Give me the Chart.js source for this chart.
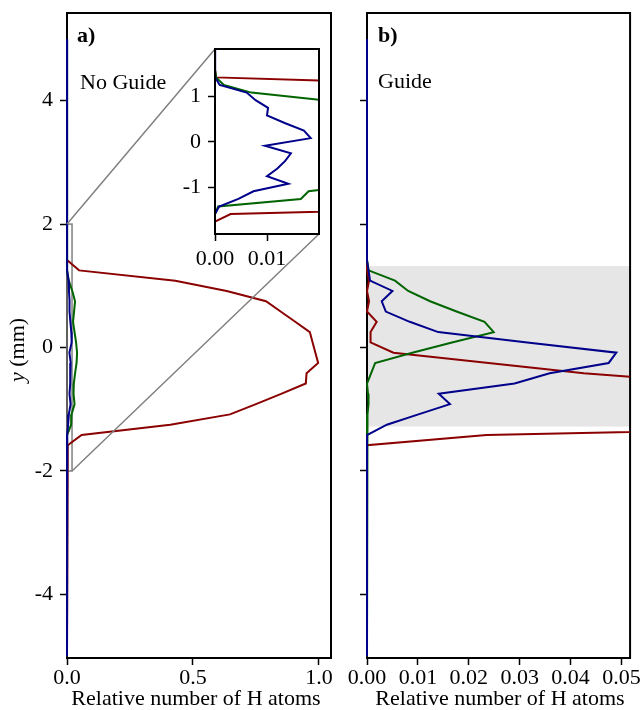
<!DOCTYPE html>
<html>
<head>
<meta charset="utf-8">
<script src="https://cdn.jsdelivr.net/npm/chart.js@4/dist/chart.umd.min.js"></script>
<style>
  body { margin: 0; background: #fff; }
  .wrap { position: relative; width: 641px; height: 710px; }
  canvas { position: absolute; left: 0; top: 0; }
</style>
</head>
<body>
<div class="wrap">
  <canvas id="panelA" width="641" height="710"></canvas>
  <canvas id="panelB" width="641" height="710"></canvas>
  <canvas id="inset" width="641" height="710"></canvas>
</div>
<script>
// y position of each bin (mm)
const yBins = [5.0, 1.75, 1.583, 1.417, 1.25, 1.083, 0.917, 0.75, 0.583, 0.417, 0.25, 0.083,
  -0.083, -0.25, -0.417, -0.583, -0.75, -0.917, -1.083, -1.25, -1.417, -1.583, -1.75, -5.0];

// a) No Guide
const redA = [0, 0, 0, 0.0002, 0.048, 0.43, 0.634, 0.79, 0.848, 0.906, 0.964, 0.975,
  0.986, 0.997, 0.951, 0.948, 0.85, 0.75, 0.647, 0.41, 0.058, 0.003, 0, 0];
const greenA = [0, 0, 0, 0.0002, 0.0017, 0.007, 0.021, 0.032, 0.028, 0.024, 0.03, 0.036,
  0.04, 0.038, 0.032, 0.027, 0.026, 0.03, 0.018, 0.0165, 0.0006, 0, 0, 0];
const blueA = [0, 0, 0, 0.0001, 0.0009, 0.0061, 0.0078, 0.0102, 0.0100, 0.0134, 0.0171, 0.0184,
  0.0096, 0.0146, 0.0135, 0.0120, 0.0100, 0.0141, 0.0074, 0.0045, 0.0008, 0, 0, 0];

// b) Guide
const redB = [0, 0, 0, 0, 0, 0.0004, 0, 0.0004, 0, 0.0019, 0.0007, 0.0007,
  0.0052, 0.0239, 0.0426, 0.07, 0.2, 0.25, 0.25, 0.12, 0.0235, 0, 0, 0];
const greenB = [0, 0, 0, 0, 0.0003, 0.0055, 0.0081, 0.0124, 0.0176, 0.0231, 0.0249, 0.0167,
  0.0089, 0.0016, 0.0008, 0, 0.0002, 0.0003, 0.0001, 0, 0, 0, 0, 0];
const blueB = [0, 0, 0, 0, 0.0003, 0.0006, 0.005, 0.0029, 0.0037, 0.0084, 0.014, 0.0315,
  0.049, 0.0475, 0.0359, 0.029, 0.0141, 0.0163, 0.0101, 0.0039, 0, 0, 0, 0];

// ticks
const yTicks = [-4, -2, 0, 2, 4];
const yTickLabels = ['-4', '-2', '0', '2', '4'];
const xTicksA = [0, 0.5, 1.0];
const xTickLabelsA = ['0.0', '0.5', '1.0'];
const xTicksB = [0, 0.01, 0.02, 0.03, 0.04, 0.05];
const xTickLabelsB = ['0.00', '0.01', '0.02', '0.03', '0.04', '0.05'];
const insetYTicks = [-1, 0, 1];
const insetYTickLabels = ['-1', '0', '1'];
const insetXTicks = [0, 0.01];
const insetXTickLabels = ['0.00', '0.01'];

// zoomed region of a) and shaded guide region of b)
const zoomBox = { x0: 0, x1: 0.02, y0: -2, y1: 2 };
const guideBand = { y0: -1.28, y1: 1.32 };

const FAM = "'Liberation Serif', 'Times New Roman', serif";
const FONT = { family: FAM, size: 22 };
const RED = '#8b0000', GREEN = '#006400', BLUE = '#00008b';

function series(vals, color, clip) {
  return {
    data: yBins.map((y, i) => ({ x: vals[i], y: y })),
    showLine: true, borderColor: color, borderWidth: 2,
    pointRadius: 0, tension: 0, fill: false, clip: clip
  };
}

function xAxis(min, max, ticks, labels, height, pad) {
  return {
    type: 'linear', position: 'bottom', min: min, max: max,
    afterBuildTicks: s => { s.ticks = ticks.map(v => ({ value: v })); },
    afterFit: s => { s.height = height; },
    ticks: { callback: (v, i) => labels[i], color: '#000', font: FONT, padding: pad, maxRotation: 0, autoSkip: false },
    grid: { drawOnChartArea: false, tickLength: 7, tickWidth: 1.5, tickColor: '#000' },
    border: { display: false }
  };
}

function yAxis(min, max, ticks, labels, width, pad) {
  return {
    type: 'linear', position: 'left', min: min, max: max,
    afterBuildTicks: s => { s.ticks = ticks.map(v => ({ value: v })); },
    afterFit: s => { s.width = width; },
    ticks: {
      display: labels !== null, callback: (v, i) => labels ? labels[i] : '',
      color: '#000', font: { family: FAM, size: 22, lineHeight: 0.4 }, padding: pad, autoSkip: false
    },
    grid: { drawOnChartArea: false, tickLength: 7, tickWidth: 1.5, tickColor: '#000' },
    border: { display: false }
  };
}

function frame(chart) {
  const a = chart.chartArea, ctx = chart.ctx;
  ctx.save();
  ctx.strokeStyle = '#000';
  ctx.lineWidth = 2;
  ctx.strokeRect(a.left, a.top, a.right - a.left, a.bottom - a.top);
  ctx.restore();
}

function text(ctx, str, x, y, font, align) {
  ctx.font = font;
  ctx.fillStyle = '#000';
  ctx.textAlign = align || 'left';
  ctx.textBaseline = 'alphabetic';
  ctx.fillText(str, x, y);
}

const baseOpts = {
  responsive: false, animation: false, events: [],
  plugins: { legend: { display: false }, tooltip: { enabled: false } }
};

const chartA = new Chart(document.getElementById('panelA'), {
  type: 'scatter',
  data: { datasets: [
    series(blueA, BLUE, { left: 2, top: 0, right: 0, bottom: 0 }),
    series(greenA, GREEN, { left: 2, top: 0, right: 0, bottom: 0 }),
    series(redA, RED, { left: 2, top: 0, right: 0, bottom: 0 })
  ] },
  options: Object.assign({}, baseOpts, {
    layout: { padding: { left: 0, top: 13, right: 310, bottom: 0 } },
    scales: {
      x: xAxis(0, 1.048, xTicksA, xTickLabelsA, 52, 0),
      y: yAxis(-5.03, 5.42, yTicks, yTickLabels, 67, 7)
    }
  }),
  plugins: [{
    id: 'decorA',
    beforeDatasetsDraw(chart) {
      frame(chart);
      const { ctx, scales: { x, y } } = chart;
      ctx.save();
      ctx.strokeStyle = '#808080';
      ctx.lineWidth = 1.5;
      const l = x.getPixelForValue(zoomBox.x0), r = x.getPixelForValue(zoomBox.x1);
      const t = y.getPixelForValue(zoomBox.y1), b = y.getPixelForValue(zoomBox.y0);
      ctx.strokeRect(l, t, r - l, b - t);
      ctx.restore();
    },
    afterDraw(chart) {
      const ctx = chart.ctx;
      ctx.save();
      text(ctx, 'a)', 77, 42, 'bold 22px ' + FAM);
      text(ctx, 'No Guide', 80, 89, '22px ' + FAM);
      text(ctx, 'Relative number of H atoms', 196, 705, '22px ' + FAM, 'center');
      // y-axis title with italic y
      ctx.translate(18, 350);
      ctx.rotate(-Math.PI / 2);
      ctx.textBaseline = 'middle';
      ctx.fillStyle = '#000';
      ctx.font = 'italic 22px ' + FAM;
      const w1 = ctx.measureText('y').width;
      ctx.font = '22px ' + FAM;
      const w2 = ctx.measureText(' (mm)').width;
      const x0 = -(w1 + w2) / 2;
      ctx.textAlign = 'left';
      ctx.font = 'italic 22px ' + FAM;
      ctx.fillText('y', x0, 0);
      ctx.font = '22px ' + FAM;
      ctx.fillText(' (mm)', x0 + w1, 0);
      ctx.restore();
    }
  }]
});

new Chart(document.getElementById('panelB'), {
  type: 'scatter',
  data: { datasets: [
    series(blueB, BLUE, { left: 2, top: 0, right: 0, bottom: 0 }),
    series(greenB, GREEN, { left: 2, top: 0, right: 0, bottom: 0 }),
    series(redB, RED, { left: 2, top: 0, right: 0, bottom: 0 })
  ] },
  options: Object.assign({}, baseOpts, {
    layout: { padding: { left: 357, top: 13, right: 10, bottom: 0 } },
    scales: {
      x: xAxis(0, 0.0517, xTicksB, xTickLabelsB, 52, 0),
      y: yAxis(-5.03, 5.42, yTicks, null, 10, 0)
    }
  }),
  plugins: [{
    id: 'decorB',
    beforeDatasetsDraw(chart) {
      const { ctx, chartArea: a, scales: { y } } = chart;
      ctx.save();
      ctx.fillStyle = '#e6e6e6';
      const t = y.getPixelForValue(guideBand.y1), b = y.getPixelForValue(guideBand.y0);
      ctx.fillRect(a.left, t, a.right - a.left, b - t);
      ctx.restore();
      frame(chart);
    },
    afterDraw(chart) {
      const ctx = chart.ctx;
      ctx.save();
      text(ctx, 'b)', 378, 42, 'bold 22px ' + FAM);
      text(ctx, 'Guide', 378, 88, '22px ' + FAM);
      text(ctx, 'Relative number of H atoms', 500, 705, '22px ' + FAM, 'center');
      ctx.restore();
    }
  }]
});

new Chart(document.getElementById('inset'), {
  type: 'scatter',
  data: { datasets: [
    series(blueA, BLUE, 0),
    series(greenA, GREEN, 0),
    series(redA, RED, 0)
  ] },
  options: Object.assign({}, baseOpts, {
    layout: { padding: { left: 175, top: 49, right: 322, bottom: 436 } },
    scales: {
      x: xAxis(0, 0.02, insetXTicks, insetXTickLabels, 40, 5),
      y: yAxis(-2.02, 2.04, insetYTicks, insetYTickLabels, 40, 7)
    }
  }),
  plugins: [{
    id: 'decorInset',
    beforeDraw(chart) {
      const { ctx, chartArea: a } = chart;
      const xs = chartA.scales.x, ys = chartA.scales.y;
      ctx.save();
      ctx.strokeStyle = '#808080';
      ctx.lineWidth = 1.5;
      ctx.beginPath();
      ctx.moveTo(xs.getPixelForValue(zoomBox.x0), ys.getPixelForValue(zoomBox.y1));
      ctx.lineTo(a.left, a.top);
      ctx.moveTo(xs.getPixelForValue(zoomBox.x1), ys.getPixelForValue(zoomBox.y0));
      ctx.lineTo(a.right, a.bottom);
      ctx.stroke();
      ctx.fillStyle = '#fff';
      ctx.fillRect(a.left, a.top, a.right - a.left, a.bottom - a.top);
      ctx.restore();
    },
    afterDatasetsDraw(chart) {
      frame(chart);
    }
  }]
});
</script>
</body>
</html>
